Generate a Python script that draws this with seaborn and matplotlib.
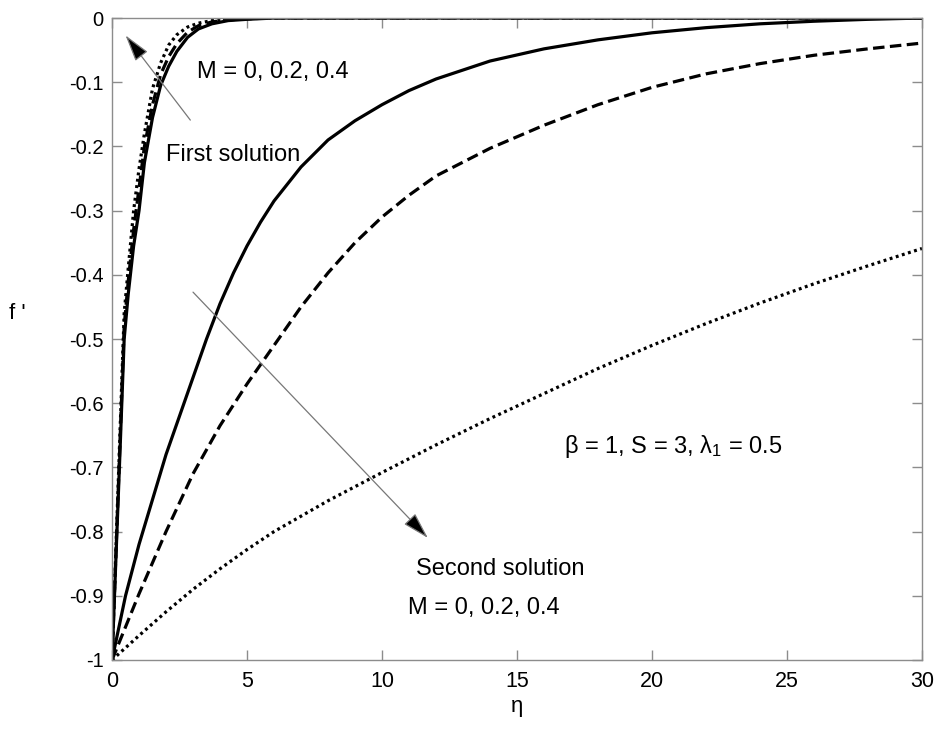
import numpy as np
import pandas as pd
import matplotlib
matplotlib.use("Agg")
import matplotlib.pyplot as plt
import seaborn as sns

# ---------------- data ----------------
# First solution (three M values)
eta_first = [0, 0.1, 0.2, 0.3, 0.45, 0.6, 0.8, 1.0, 1.2, 1.5, 1.8, 2.1, 2.4, 2.8, 3.2, 3.7, 4.3, 5.0, 6.0, 30.0]
first_M0 = [-1, -0.89, -0.78, -0.67, -0.50, -0.43, -0.355, -0.30, -0.225, -0.155, -0.105, -0.075, -0.052,
            -0.03, -0.017, -0.009, -0.004, -0.002, 0.0, 0.0]
first_M02 = [-1, -0.885, -0.77, -0.655, -0.48, -0.41, -0.33, -0.265, -0.20, -0.135, -0.088, -0.06, -0.04,
             -0.022, -0.012, -0.006, -0.003, -0.001, 0.0, 0.0]
first_M04 = [-1, -0.88, -0.76, -0.64, -0.46, -0.39, -0.30, -0.235, -0.18, -0.11, -0.07, -0.042, -0.026,
             -0.014, -0.008, -0.004, -0.002, -0.001, 0.0, 0.0]

# Second solution (three M values)
eta_sec_M0 = [0, 0.5, 1, 1.5, 2, 2.5, 3, 3.5, 4, 4.5, 5, 5.5, 6, 7, 8, 9, 10, 11, 12, 14, 16, 18, 20,
              22, 24, 26, 28, 30]
sec_M0 = [-1, -0.90, -0.82, -0.75, -0.68, -0.62, -0.56, -0.50, -0.445, -0.397, -0.355, -0.318, -0.285,
          -0.232, -0.19, -0.16, -0.135, -0.113, -0.095, -0.067, -0.048, -0.034, -0.023, -0.015, -0.009,
          -0.005, -0.002, 0.0]

eta_sec_M02 = [0, 1, 2, 3, 4, 5, 6, 7, 8, 9, 10, 11, 12, 14, 16, 18, 20, 22, 24, 26, 28, 30]
sec_M02 = [-1, -0.897, -0.80, -0.71, -0.635, -0.57, -0.51, -0.45, -0.397, -0.35, -0.31, -0.276,
           -0.246, -0.203, -0.167, -0.135, -0.108, -0.087, -0.071, -0.058, -0.048, -0.039]

eta_sec_M04 = [0, 1, 2, 3, 4, 5, 6, 8, 10, 12, 14, 16, 18, 20, 22, 24, 26, 28, 30]
sec_M04 = [-1, -0.962, -0.925, -0.890, -0.858, -0.828, -0.800, -0.752, -0.708, -0.665, -0.624,
           -0.585, -0.546, -0.51, -0.476, -0.444, -0.414, -0.386, -0.359]

x_ticks = [0, 5, 10, 15, 20, 25, 30]
x_tick_labels = ["0", "5", "10", "15", "20", "25", "30"]
y_ticks = [0, -0.1, -0.2, -0.3, -0.4, -0.5, -0.6, -0.7, -0.8, -0.9, -1]
y_tick_labels = ["0", "-0.1", "-0.2", "-0.3", "-0.4", "-0.5", "-0.6", "-0.7", "-0.8", "-0.9", "-1"]

# ---------------- plot ----------------
sns.set_theme(style="white")
plt.rcParams["font.family"] = ["Liberation Sans", "DejaVu Sans"]
plt.rcParams["text.color"] = "black"
plt.rcParams["axes.labelcolor"] = "black"

fig = plt.figure(figsize=(9.43, 7.36), dpi=100)
ax = fig.add_axes([0.1188, 0.1033, 0.8589, 0.8722])

lw = 2.3
styles = {"solid": "-", "dashed": (0, (3.6, 1.7)), "dotted": (0, (0.9, 1.1))}

series = [
    (eta_first, first_M0, "solid"),
    (eta_first, first_M02, "dashed"),
    (eta_first, first_M04, "dotted"),
    (eta_sec_M0, sec_M0, "solid"),
    (eta_sec_M02, sec_M02, "dashed"),
    (eta_sec_M04, sec_M04, "dotted"),
]
for xs, ys, st in series:
    df = pd.DataFrame({"eta": xs, "fp": ys})
    sns.lineplot(data=df, x="eta", y="fp", ax=ax, color="black", lw=lw,
                 linestyle=styles[st], sort=False, estimator=None)

ax.set_xlim(0, 30)
ax.set_ylim(-1, 0)
ax.set_xticks(x_ticks)
ax.set_xticklabels(x_tick_labels, fontsize=15.5)
ax.set_yticks(y_ticks)
ax.set_yticklabels(y_tick_labels, fontsize=14.5)
ax.tick_params(direction="in", length=7, width=1, color="#8c8c8c",
               top=True, right=True, bottom=True, left=True, labelcolor="black")
ax.tick_params(axis="x", pad=8)
ax.tick_params(axis="y", pad=6)
for sp in ax.spines.values():
    sp.set_color("#8c8c8c")
    sp.set_linewidth(1)
    sp.set_visible(True)

ax.set_xlabel("η", fontsize=16, va="center", color="black")
ax.xaxis.set_label_coords(0.5, -0.072)
ax.set_ylabel("f '", fontsize=16, rotation=0, va="center", ha="left", color="black")
ax.yaxis.set_label_coords(-0.127, 0.54)

# annotations (gray shafts, black heads)
arrow_kw = dict(arrowstyle="-|>,head_length=1.4,head_width=0.4", fc="black", ec="#777777",
                lw=0.9, shrinkA=0, shrinkB=0)
ax.annotate("", xy=(0.5, -0.027), xytext=(2.9, -0.159), arrowprops=arrow_kw)
ax.annotate("", xy=(11.7, -0.81), xytext=(3.0, -0.427), arrowprops=arrow_kw)

txt = 17
ax.text(3.15, -0.084, "M = 0, 0.2, 0.4", fontsize=txt, va="center", ha="left", color="black")
ax.text(2.0, -0.213, "First solution", fontsize=txt, va="center", ha="left", color="black")
ax.text(16.75, -0.668, r"$\mathregular{\beta}$ = 1, S = 3, $\mathregular{\lambda_1}$ = 0.5",
        fontsize=txt, va="center", ha="left", color="black")
ax.text(11.25, -0.858, "Second solution", fontsize=txt, va="center", ha="left", color="black")
ax.text(10.98, -0.919, "M = 0, 0.2, 0.4", fontsize=txt, va="center", ha="left", color="black")

fig.savefig("out.png", dpi=100)
